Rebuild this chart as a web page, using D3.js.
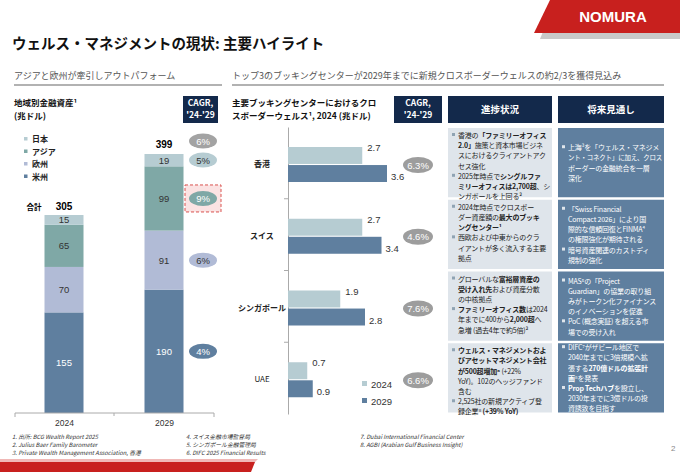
<!DOCTYPE html>
<html><head><meta charset="utf-8">
<script src="https://cdn.jsdelivr.net/npm/d3@7"></script>
<style>
body{margin:0;background:#fff}
svg{font-family:"Noto Sans CJK JP","Liberation Sans",sans-serif;display:block}
</style></head><body>
<svg id="c" width="680" height="472"></svg>
<script>
// left chart: financial assets by region (trn USD)
const years = ['2024', '2029']
const regions = ['米州', '欧州', 'アジア', '日本']
const americas = [155, 190]
const europe = [70, 91]
const asia = [65, 99]
const japan = [15, 19]
const regionCagr = ['4%', '6%', '9%', '5%']
const totalCagr = '6%'

// right chart: cross-border wealth by booking centre
const centers = ['香港', 'スイス', 'シンガポール', 'UAE']
const wealth2024 = [2.7, 2.7, 1.9, 0.7]
const wealth2029 = [3.6, 3.4, 2.8, 0.9]
const centerCagr = ['6.3%', '4.6%', '7.6%', '6.6%']

const progress = [
  [[1, '香港の**「ファミリーオフィス**'], [0, '**2.0」**施策と資本市場ビジネ'], [0, 'スにおけるクライアントアク'], [0, 'セス強化'],
   [1, '2025年時点で**シングルファ**'], [0, '**ミリーオフィスは2,700超**、シ'], [0, 'ンガポールを上回る²']],
  [[1, '2024年時点でクロスボー'], [0, 'ダー資産額の**最大のブッキ**'], [0, '**ングセンター¹**'],
   [1, '西欧および中東からのクラ'], [0, 'イアントが多く流入する主要'], [0, '拠点']],
  [[1, 'グローバルな**富裕層資産の**'], [0, '**受け入れ先**および資産分散'], [0, 'の中核拠点'],
   [1, '**ファミリーオフィス数**は2024'], [0, '年までに400から**2,000超**へ'], [0, '急増 (過去4年で約5倍)²']],
  [[1, '**ウェルス・マネジメントおよ**'], [0, '**びアセットマネジメント会社**'], [0, '**が500超増加⁶** (+22%'], [0, 'YoY)。102のヘッジファンド'], [0, '含む'],
   [1, '2,525社の新規アクティブ登'], [0, '録企業⁸ **(+39% YoY)**']]
]
const outlook = [
  [[1, '上海³を「ウェルス・マネジメ'], [0, 'ント・コネクト」に加え、クロス'], [0, 'ボーダーの金融統合を一層'], [0, '深化']],
  [[1, '「Swiss Financial'], [0, 'Compact 2026」により国'], [0, '際的な信頼回復とFINMA⁴'], [0, 'の権限強化が期待される'],
   [1, '暗号資産関連のカストディ'], [0, '規制の強化']],
  [[1, 'MAS⁵の「Project'], [0, 'Guardian」の協業の取り組'], [0, 'みがトークン化ファイナンス'], [0, 'のイノベーションを促進'],
   [1, 'PoC (概念実証) を超える市'], [0, '場での受け入れ']],
  [[1, 'DIFC⁷がザビール地区で'], [0, '2040年までに3倍規模へ拡'], [0, '張する**270億ドルの拡張計**'], [0, '**画**⁸を発表'],
   [1, '**Prop Techハブ**を設立し、'], [0, '2030年までに3億ドルの投'], [0, '資誘致を目指す']]
]

const navy = '#13294b', cUS = '#5f7f9f', cEU = '#b1bbd6', cAS = '#7fa8a6', cJP = '#b6ccd2'
const svg = d3.select('#c')

// logo + bottom band
svg.append('polygon').attr('points', '556,0 680,0 680,39 540,39').attr('fill', '#c9c9c9')
svg.append('polygon').attr('points', '550,0 680,0 680,33 534,33').attr('fill', '#c8201e')
svg.append('text').attr('x', 613).attr('y', 22).attr('text-anchor', 'middle').attr('fill', '#fff')
  .attr('font-size', 15).attr('font-weight', 'bold').attr('font-family', 'Liberation Sans').text('NOMURA')
svg.append('polygon').attr('points', '0,459 258,459 255,462 0,462').attr('fill', '#f0b8b6')
svg.append('polygon').attr('points', '0,462 255,462 251,472 0,472').attr('fill', '#c8201e')

svg.append('text').attr('x', 12).attr('y', 49).attr('font-size', 14.5).attr('font-weight', 'bold')
  .attr('fill', '#111').text('ウェルス・マネジメントの現状: 主要ハイライト')

function header(x, x2, t) {
  svg.append('text').attr('x', x).attr('y', 79).attr('font-size', 9).attr('fill', '#555').text(t)
  svg.append('line').attr('x1', x).attr('x2', x2).attr('y1', 85).attr('y2', 85).attr('stroke', '#999').attr('stroke-width', 1.5)
}
header(14, 222, 'アジアと欧州が牽引しアウトパフォーム')
header(232, 664, 'トップ3のブッキングセンターが2029年までに新規クロスボーダーウェルスの約2/3を獲得見込み')

function navBox(x, y, w, h, lines, fs) {
  svg.append('rect').attr('x', x).attr('y', y).attr('width', w).attr('height', h).attr('fill', navy)
  lines.forEach((l, i) => svg.append('text').attr('x', x + w / 2).attr('y', y + h / 2 + (i - (lines.length - 1) / 2) * 12 + fs * 0.35)
    .attr('text-anchor', 'middle').attr('fill', '#fff').attr('font-size', fs).attr('font-weight', 'bold').text(l))
}
navBox(183, 96, 35, 27, ['CAGR,', "'24-'29"], 8.5)
navBox(394, 96, 48, 27, ['CAGR,', "'24-'29"], 8.5)
navBox(448, 96, 104, 27, ['進捗状況'], 9.5)
navBox(558, 96, 106, 27, ['将来見通し'], 9.5)

const sub = (x, y, t) => svg.append('text').attr('x', x).attr('y', y).attr('font-size', 8.5).attr('font-weight', 'bold').attr('fill', '#111').text(t)
sub(14, 106, '地域別金融資産¹'); sub(14, 119, '(兆ドル)')
sub(232, 106, '主要ブッキングセンターにおけるクロ'); sub(232, 119, 'スボーダーウェルス¹, 2024 (兆ドル)')

// ---- stacked bars
const series = [americas, europe, asia, japan]
const colors = [cUS, cEU, cAS, cJP]
const xp = d3.scalePoint().domain(years).range([64, 164])
const y = d3.scaleLinear().domain([0, 399]).range([413, 154])
const bw = 39
const stack = d3.stack().keys(d3.range(4))(years.map((yr, j) => series.map(s => s[j])))
stack.forEach((layer, k) => {
  layer.forEach((d, j) => {
    svg.append('rect').attr('x', xp(years[j]) - bw / 2).attr('y', y(d[1])).attr('width', bw)
      .attr('height', y(d[0]) - y(d[1])).attr('fill', colors[k])
    svg.append('text').attr('x', xp(years[j])).attr('y', (y(d[0]) + y(d[1])) / 2 + 3.5).attr('text-anchor', 'middle')
      .attr('font-size', 9.5).attr('fill', k === 0 ? '#fff' : '#333').attr('font-family', 'Liberation Sans').text(series[k][j])
  })
})
const xAxis = svg.append('g').attr('transform', 'translate(0,413)')
  .call(d3.axisBottom(xp).tickSize(0).tickPadding(7))
xAxis.select('.domain').remove()
xAxis.append('path').attr('d', 'M15,4V0H214V4 M114,0V3').attr('stroke', '#aaa').attr('fill', 'none')
xAxis.selectAll('.tick text').attr('font-size', 8.5).attr('fill', '#333').attr('font-family', 'Liberation Sans')

const totals = years.map((yr, j) => d3.sum(series, s => s[j]))
svg.append('text').attr('x', xp(years[0])).attr('y', y(totals[0]) - 5).attr('text-anchor', 'middle')
  .attr('font-size', 10).attr('font-weight', 'bold').attr('font-family', 'Liberation Sans').text(totals[0])
svg.append('text').attr('x', 34).attr('y', y(totals[0]) - 5).attr('text-anchor', 'middle')
  .attr('font-size', 7.5).attr('font-weight', 'bold').text('合計')
svg.append('text').attr('x', xp(years[1])).attr('y', y(totals[1]) - 6).attr('text-anchor', 'middle')
  .attr('font-size', 10).attr('font-weight', 'bold').attr('font-family', 'Liberation Sans').text(totals[1])

// legend (reverse order)
regions.slice().reverse().forEach((r, i) => {
  svg.append('rect').attr('x', 24).attr('y', 137 + i * 12.5).attr('width', 3.5).attr('height', 3.5).attr('fill', colors[3 - i])
  svg.append('text').attr('x', 32).attr('y', 142 + i * 12.5).attr('font-size', 8).attr('font-weight', 'bold').attr('fill', '#222').text(r)
})

// CAGR bubbles
function bubble(cx, cy, t, fill, tc, rx, ry) {
  svg.append('ellipse').attr('cx', cx).attr('cy', cy).attr('rx', rx || 14).attr('ry', ry || 7.5).attr('fill', fill)
  svg.append('text').attr('x', cx).attr('y', cy + 3.5).attr('text-anchor', 'middle').attr('font-size', 9.5)
    .attr('fill', tc).attr('font-family', 'Liberation Sans').text(t)
}
const bubCol = [cUS, cEU, cAS, cJP]
const last = stack.map(l => l[1])
svg.append('rect').attr('x', 185).attr('y', (y(last[2][0]) + y(last[2][1])) / 2 - 13.5).attr('width', 36).attr('height', 27)
  .attr('fill', '#fbe3e3').attr('stroke', '#d9534f').attr('stroke-dasharray', '3,2')
last.forEach((d, k) => {
  const cy = k === 3 ? y(d[1]) + 6 : (y(d[0]) + y(d[1])) / 2
  bubble(203, cy, regionCagr[k], bubCol[k], k === 0 || k === 2 ? '#fff' : '#333')
})
bubble(203, 141, totalCagr, '#a3a3a3', '#fff')

// ---- horizontal bars
const yb = d3.scaleBand().domain(centers).range([127, 414])
const yi = d3.scaleBand().domain(['2024', '2029']).range([20, 55]).paddingInner(0.06)
const xb = d3.scaleLinear().domain([0, 4]).range([288, 398])
const yAxis = svg.append('g').attr('transform', 'translate(288,0)').call(d3.axisLeft(yb).tickSize(0).tickPadding(0).tickFormat(''))
yAxis.select('.domain').attr('stroke', '#aaa')
d3.range(1, 4).forEach(i => svg.append('line').attr('x1', 284).attr('x2', 288).attr('y1', 127 + yb.step() * i).attr('y2', 127 + yb.step() * i).attr('stroke', '#aaa'))
centers.forEach((c, i) => {
  const top = yb(c)
  svg.append('text').attr('x', 262).attr('y', top + 40).attr('text-anchor', 'middle').attr('font-size', 8)
    .attr('font-weight', i < 3 ? 'bold' : 'normal').attr('fill', '#222').text(c)
  ;[[wealth2024, '2024', cJP], [wealth2029, '2029', cUS]].forEach(([arr, k, col]) => {
    svg.append('rect').attr('x', xb(0)).attr('y', top + yi(k)).attr('width', xb(arr[i]) - xb(0)).attr('height', yi.bandwidth()).attr('fill', col)
    svg.append('text').attr('x', xb(arr[i]) + (k === '2024' ? 5 : 4)).attr('y', top + yi(k) + (k === '2024' ? 4 : 15))
      .attr('font-size', 9.5).attr('fill', '#333').attr('font-family', 'Liberation Sans').text(arr[i].toFixed(1))
  })
  bubble(418, top + 38, centerCagr[i], '#9d9d9d', '#fff', 15, 8)
})
;[['2024', cJP], ['2029', cUS]].forEach(([t, col], i) => {
  svg.append('rect').attr('x', 362).attr('y', 381 + i * 17).attr('width', 5).attr('height', 5).attr('fill', col)
  svg.append('text').attr('x', 371).attr('y', 388 + i * 17).attr('font-size', 9.5).attr('fill', '#333').attr('font-family', 'Liberation Sans').text(t)
})

// ---- text cells
function cell(x, w, i, lines, bg, fg, bul, center) {
  const top = yb(centers[i]) + 1, h = yb.step() - 2.5
  svg.append('rect').attr('x', x).attr('y', top).attr('width', w).attr('height', h).attr('fill', bg)
  const lh = 10.2
  let y0 = center ? top + h / 2 - (lines.length * lh) / 2 + 8 : top + 10
  lines.forEach((l, j) => {
    const yy = y0 + j * lh
    if (l[0]) svg.append('rect').attr('x', x + 4).attr('y', yy - 5).attr('width', 3).attr('height', 3).attr('fill', bul)
    const t = svg.append('text').attr('x', x + 10).attr('y', yy).attr('font-size', 7).attr('letter-spacing', -0.2).attr('fill', fg)
    l[1].split('**').forEach((seg, s) => { if (seg) t.append('tspan').attr('font-weight', s % 2 ? 'bold' : 'normal').text(seg) })
    const len = t.node().getComputedTextLength()
    if (len > w - 12) t.attr('textLength', w - 12).attr('lengthAdjust', 'spacingAndGlyphs')
  })
}
progress.forEach((p, i) => cell(448, 104, i, p, '#dfe5eb', '#222', '#8fa3b3', false))
outlook.forEach((p, i) => cell(558, 106, i, p, cUS, '#fff', '#dfe5eb', true))

// footnotes
const notes = [[12, ['1. 出所: BCG Wealth Report 2025', '2. Julius Baer Family Barometer', '3. Private Wealth Management Association, 香港']],
  [186, ['4. スイス金融市場監督局', '5. シンガポール金融管理局', '6. DIFC 2025 Financial Results']],
  [360, ['7. Dubai International Financial Center', '8. AGBI (Arabian Gulf Business Insight)']]]
notes.forEach(([x, ls]) => ls.forEach((l, i) => svg.append('text').attr('x', x).attr('y', 439 + i * 8)
  .attr('font-size', 5.8).attr('font-style', 'italic').attr('fill', '#333').text(l)))
svg.append('text').attr('x', 671).attr('y', 451).attr('font-size', 8).attr('fill', '#888').attr('font-family', 'Liberation Sans').text('2')
</script></body></html>
